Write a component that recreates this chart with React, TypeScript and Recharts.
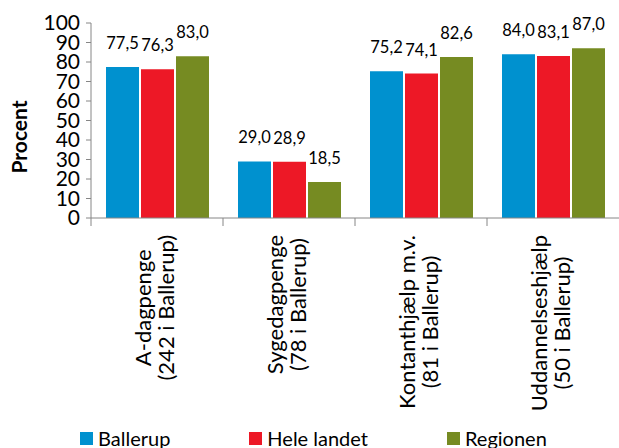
import { BarChart, Bar, XAxis, YAxis, LabelList, Legend } from "recharts";

// Kategorier (linjeskift giver to linjer i aksen)
const categories = [
  "A-dagpenge\n(242 i Ballerup)",
  "Sygedagpenge\n(78 i Ballerup)",
  "Kontanthjælp m.v.\n(81 i Ballerup)",
  "Uddannelseshjælp\n(50 i Ballerup)",
];

const ballerup = [77.5, 29.0, 75.2, 84.0];
const heleLandet = [76.3, 28.9, 74.1, 83.1];
const regionen = [83.0, 18.5, 82.6, 87.0];

const yTicks = [0, 10, 20, 30, 40, 50, 60, 70, 80, 90, 100];

const SERIES = [
  { key: "ballerup", name: "Ballerup", color: "#0091cf" },
  { key: "heleLandet", name: "Hele landet", color: "#ed1826" },
  { key: "regionen", name: "Regionen", color: "#768b22" },
];

const data = categories.map((c, i) => ({
  category: c,
  ballerup: ballerup[i],
  heleLandet: heleLandet[i],
  regionen: regionen[i],
}));

const FONT = "Lato, 'Open Sans', sans-serif";
const AXIS_COLOR = "#868686";

const fmt = (v: any) => Number(v).toFixed(1).replace(".", ",");

let ctx: CanvasRenderingContext2D | null = null;
function measure(text: string, font: string) {
  if (!ctx) ctx = document.createElement("canvas").getContext("2d");
  if (!ctx) return text.length * 10;
  ctx.font = font;
  return ctx.measureText(text).width;
}

function CategoryTick(props: any) {
  const { x, y, payload } = props;
  const lines = String(payload.value).split("\n");
  const maxW = Math.max(...lines.map((l) => measure(l, "22px Lato")));
  const half = payload.offset || 66;
  return (
    <g>
      <line x1={x - half} x2={x - half} y1={y - 17} y2={y - 9} stroke={AXIS_COLOR} />
      <g transform={`translate(${x},${y}) rotate(-90)`}>
        {lines.map((l, i) => (
          <text
            key={i}
            x={-maxW / 2}
            y={-6 + i * 23}
            textAnchor="middle"
            fontFamily={FONT}
            fontSize={22}
            fill="#000"
          >
            {l}
          </text>
        ))}
      </g>
    </g>
  );
}

function ProcentLabel() {
  return (
    <text
      x={27}
      y={137}
      transform="rotate(-90, 27, 137)"
      textAnchor="middle"
      fontFamily={FONT}
      fontSize={21}
      fontWeight="bold"
      fill="#000"
    >
      Procent
    </text>
  );
}

function LegendContent() {
  return (
    <div
      style={{
        height: 24,
        lineHeight: "24px",
        display: "flex",
        alignItems: "center",
        paddingLeft: 80,
        gap: 79,
        fontFamily: FONT,
        fontSize: 20,
        color: "#000",
        whiteSpace: "nowrap",
      }}
    >
      {SERIES.map((s) => (
        <div key={s.key} style={{ display: "flex", alignItems: "center" }}>
          <span
            style={{
              display: "inline-block",
              width: 13,
              height: 13,
              background: s.color,
              marginRight: 5,
            }}
          />
          {s.name}
        </div>
      ))}
    </div>
  );
}

export default function App() {
  return (
    <div style={{ position: "absolute", left: 0, top: 0, width: 619, height: 448, background: "#fff" }}>
      <BarChart
        width={619}
        height={448}
        data={data}
        margin={{ top: 23, right: 0, left: 0, bottom: 0 }}
        barCategoryGap={15}
        barGap={2}
      >
        <XAxis
          dataKey="category"
          height={206}
          tickSize={8}
          tickMargin={9}
          tickLine={false}
          interval={0}
          stroke={AXIS_COLOR}
          tick={<CategoryTick />}
        />
        <YAxis
          width={91}
          domain={[0, 100]}
          ticks={yTicks}
          interval={0}
          tickSize={5}
          tickMargin={6}
          stroke={AXIS_COLOR}
          tick={{ fontFamily: FONT, fontSize: 21, fill: "#000" }}
          label={<ProcentLabel />}
        />
        <Legend
          verticalAlign="bottom"
          content={<LegendContent />}
          wrapperStyle={{ top: 426, bottom: "auto", left: 0, width: 619, height: 24 }}
        />
        {SERIES.map((s) => (
          <Bar key={s.key} dataKey={s.key} name={s.name} fill={s.color} isAnimationActive={false}>
            <LabelList
              dataKey={s.key}
              position="top"
              offset={18}
              formatter={fmt}
              fontFamily={FONT}
              fontSize={16.5}
              fill="#000"
            />
          </Bar>
        ))}
      </BarChart>
    </div>
  );
}
